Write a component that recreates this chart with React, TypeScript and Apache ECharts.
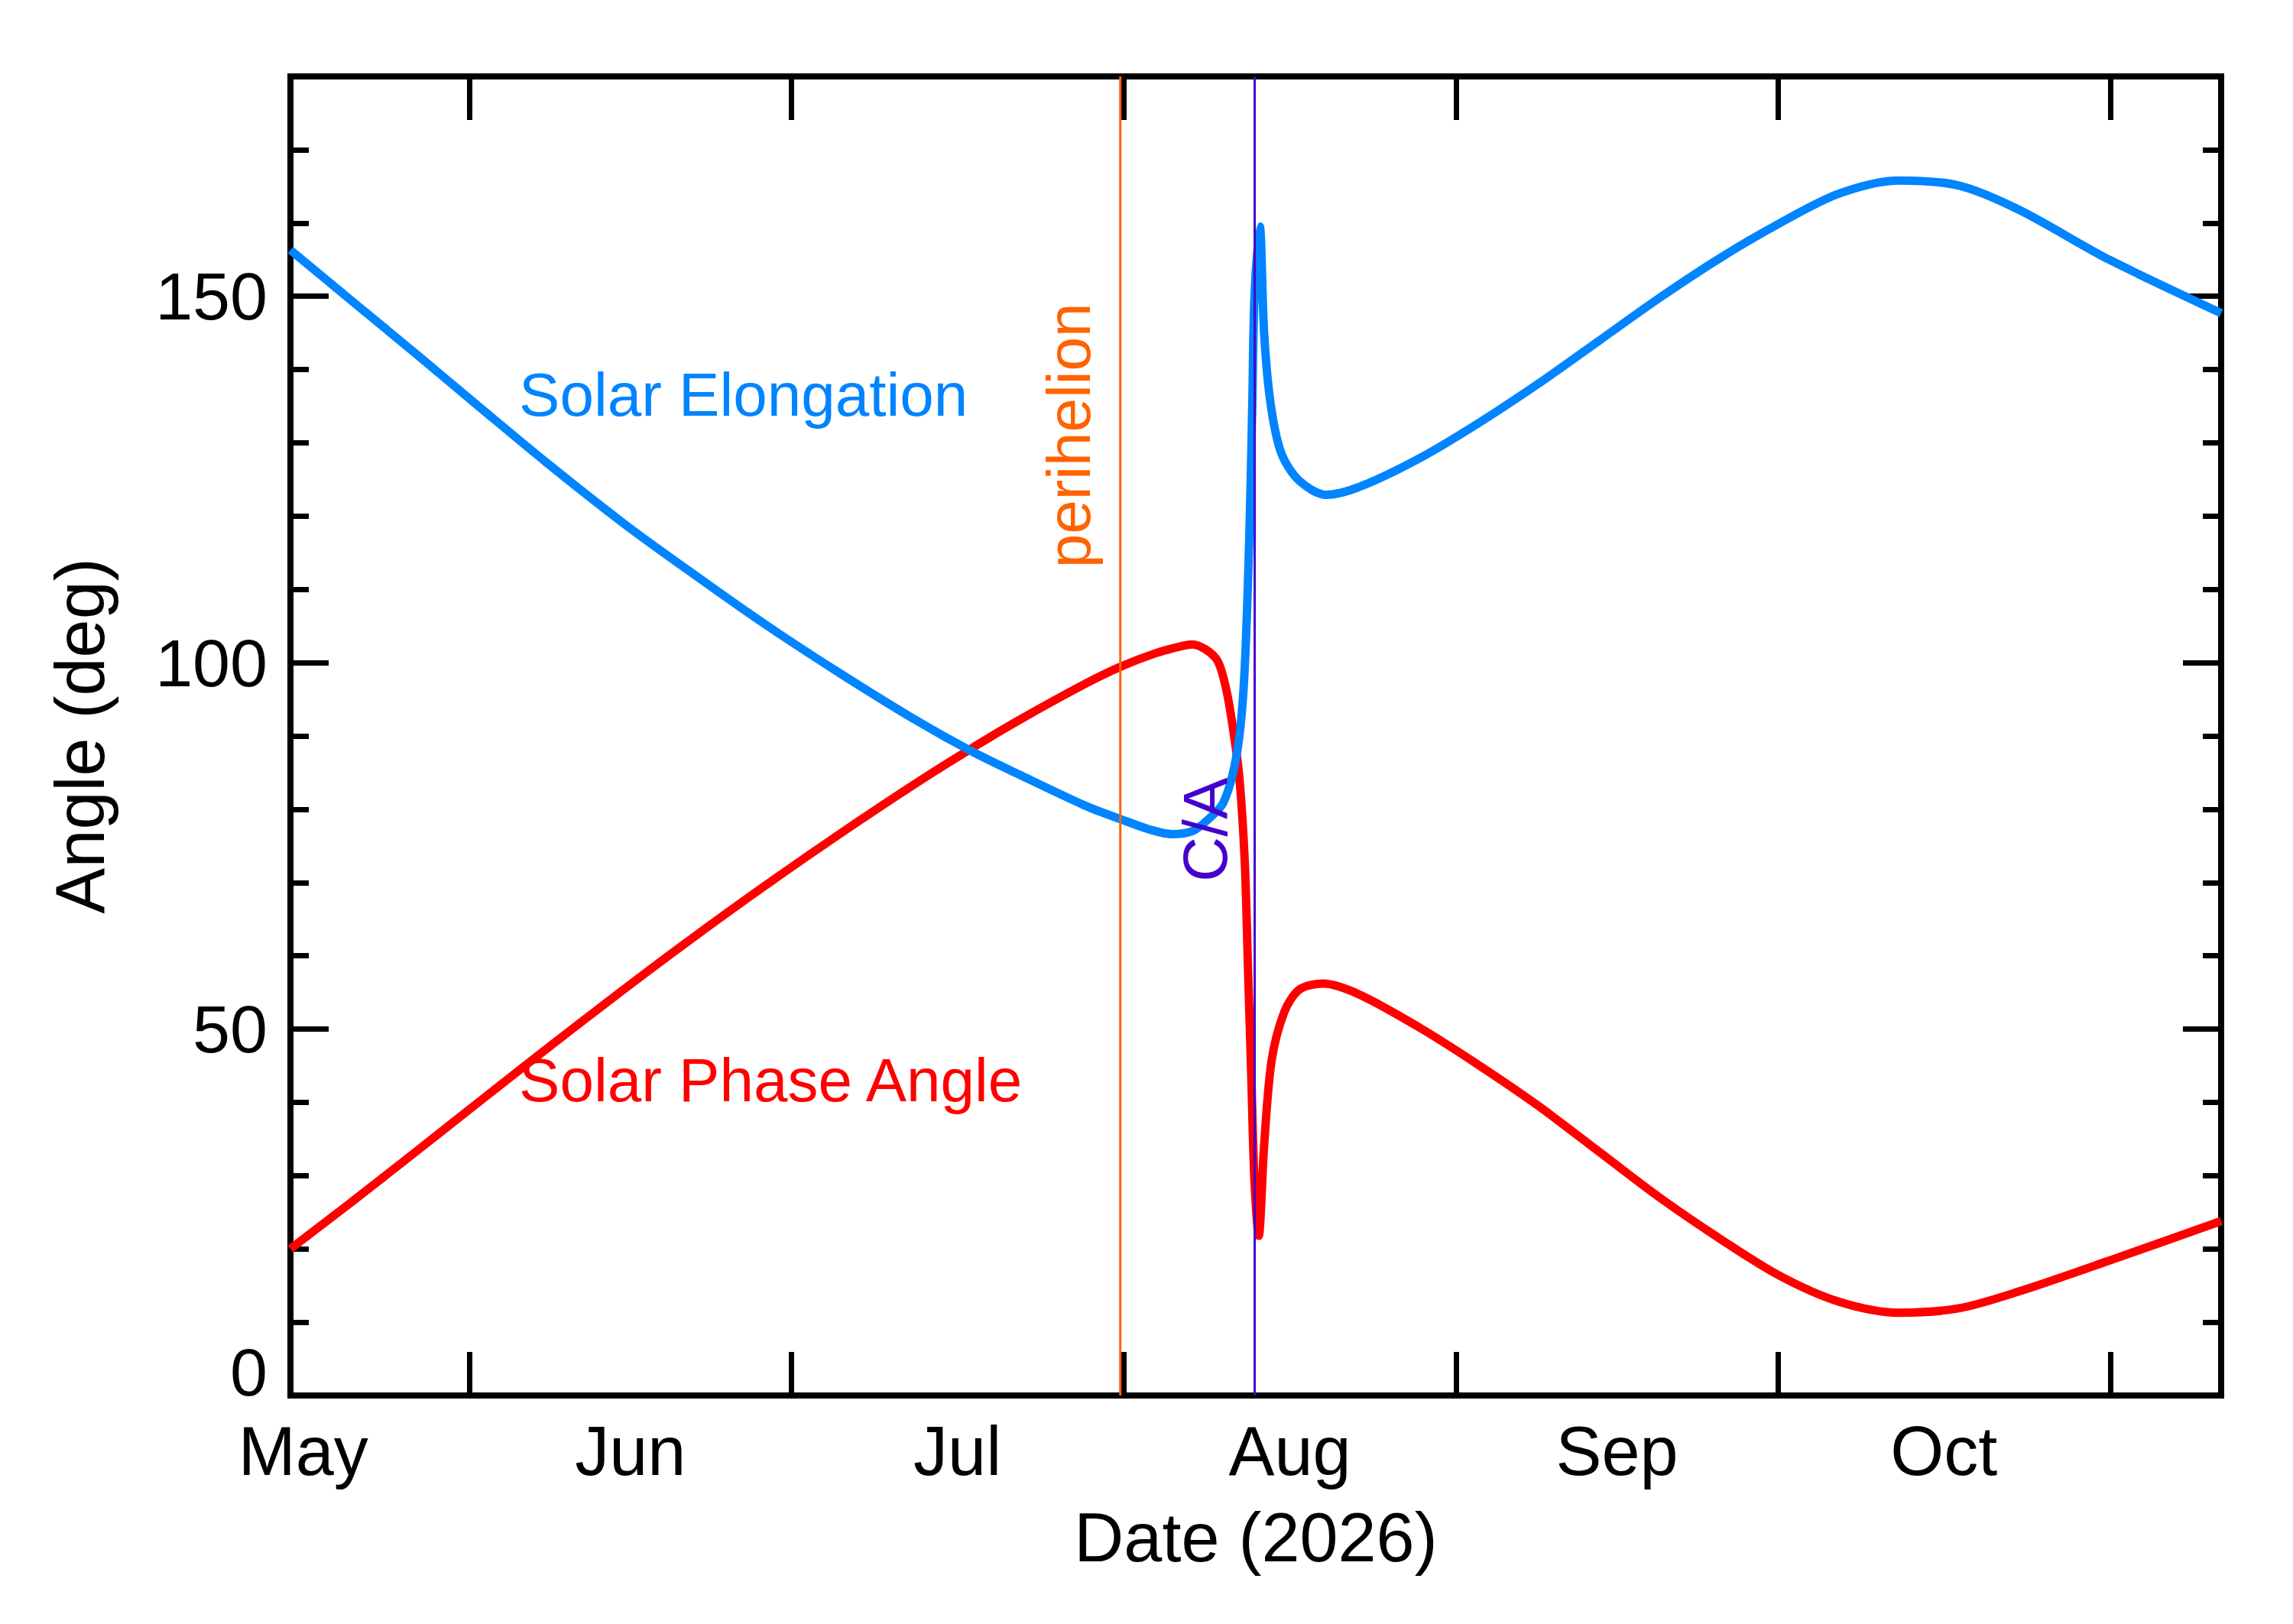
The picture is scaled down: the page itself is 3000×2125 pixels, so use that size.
import React, { useEffect, useRef } from 'react';
import * as echarts from 'echarts';

// days counted from 2026-05-01 (May 1 = 0)
const elongDays = [
  14.3, 20.0, 26.2, 32.0, 38.1, 45.2, 51.4, 58.5, 65.6, 72.8, 77.7, 82.3, 88.4, 91.8, 94.5,
  96.5, 98.4, 99.8, 101.3, 102.5, 103.2, 103.7, 104.0, 104.2, 104.7, 105.1, 105.7, 106.7,
  108.4, 110.9, 114.0, 119.6, 125.1, 130.7, 136.3, 141.9, 147.5, 153.1, 158.7, 164.3, 169.9,
  175.5, 183.9, 194.35
];
const elongation = [
  156.3, 149.4, 141.9, 134.8, 127.4, 119.2, 112.6, 105.3, 98.5, 92.0, 88.0, 84.7, 80.5, 78.6, 77.2,
  76.6, 77.0, 78.5, 80.9, 87.1, 96.8, 116.1, 135.4, 149.8, 159.5, 145.0, 135.4, 128.6,
  124.8, 122.9, 124.0, 127.9, 132.7, 138.1, 143.9, 149.7, 155.1, 159.9, 164.0, 165.8, 165.1,
  161.8, 155.0, 147.7
];

const phaseDays = [
  14.3, 20.0, 26.2, 32.0, 38.1, 45.2, 51.4, 58.5, 65.6, 72.8, 77.7, 82.3, 88.4, 91.8, 95.0,
  97.5, 98.4, 100.6, 101.5, 102.2, 102.8, 103.3, 103.6, 103.9, 104.2, 104.6, 105.1, 105.8,
  107.0, 108.4, 110.6, 114.0, 119.6, 125.1, 130.7, 136.3, 141.9, 147.5, 153.1, 158.7, 164.3,
  169.9, 175.5, 183.9, 194.35
];
const phaseAngle = [
  20.0, 26.4, 33.5, 40.2, 47.2, 55.2, 62.0, 69.5, 76.7, 83.7, 88.2, 92.2, 97.1, 99.5, 101.3,
  102.3, 102.5, 100.6, 96.8, 91.0, 84.2, 72.7, 58.2, 43.8, 29.3, 21.8, 34.1, 45.7,
  52.4, 55.4, 56.2, 54.7, 50.2, 45.1, 39.5, 33.3, 27.1, 21.5, 16.4, 12.8, 11.3,
  11.9, 14.2, 18.4, 23.8
];

const monthStarts = [31, 61, 92, 123, 153, 184];
const monthMids = [15.5, 46, 76.5, 107.5, 138, 168.5];
const monthNames = ['May', 'Jun', 'Jul', 'Aug', 'Sep', 'Oct'];
const majorTicks = [0, 50, 100, 150];
const minorTicks = [10, 20, 30, 40, 60, 70, 80, 90, 110, 120, 130, 140, 160, 170];

const perihelionDay = 91.69;
const closeApproachDay = 104.22;

const X_MIN = 14.3;
const X_MAX = 194.35;

const BLUE = '#0084ff';
const RED = '#ff0000';
const ORANGE = '#ff6200';
const PURPLE = '#4400cc';
const FONT = '"Liberation Sans", Arial, Helvetica, sans-serif';

// text annotations inside the plot, anchored in data coordinates
const notes = [
  { text: 'Solar Elongation', at: [35.62, 136.6], color: BLUE, vertical: false, size: 80 },
  { text: 'Solar Phase Angle', at: [35.62, 43.05], color: RED, vertical: false, size: 80 },
  { text: 'perihelion', at: [86.87, 131.0], color: ORANGE, vertical: true, size: 80 },
  { text: 'C/A', at: [99.6, 77.2], color: PURPLE, vertical: true, size: 82 }
];

const axisLineStyle = { color: '#000', width: 8, cap: 'square' as const };
const tickLineStyle = { color: '#000', width: 7 };

export default function App() {
  const chartRef = useRef<HTMLDivElement>(null);

  useEffect(() => {
    document.body.style.margin = '0';
    if (!chartRef.current) return;
    const chart = echarts.init(chartRef.current, undefined, { renderer: 'svg' });

    const xBase = {
      type: 'value' as const,
      min: X_MIN,
      max: X_MAX,
      splitLine: { show: false },
      axisLine: { show: true, onZero: false, lineStyle: axisLineStyle },
      axisTick: { show: true, inside: true, length: 57, customValues: monthStarts, lineStyle: tickLineStyle }
    };
    const yBase = {
      type: 'value' as const,
      min: 0,
      max: 180,
      splitLine: { show: false },
      axisLabel: { show: false }
    };

    const option: any = {
      animation: false,
      backgroundColor: '#fff',
      grid: { left: 380, top: 100, width: 2526, height: 1726 },
      xAxis: [
        {
          ...xBase,
          position: 'bottom',
          axisLabel: {
            show: true,
            customValues: monthMids,
            formatter: (v: number) => {
              const i = monthMids.findIndex((m) => Math.abs(m - v) < 0.01);
              return i >= 0 ? monthNames[i] : '';
            },
            fontSize: 90,
            lineHeight: 90,
            fontFamily: FONT,
            color: '#000',
            margin: 28
          },
          name: 'Date (2026)',
          nameLocation: 'middle',
          nameGap: 141,
          nameTextStyle: { fontSize: 90, lineHeight: 90, fontFamily: FONT, color: '#000' }
        },
        { ...xBase, position: 'top', axisLabel: { show: false } }
      ],
      yAxis: [
        {
          ...yBase,
          position: 'left',
          axisLine: { show: true, onZero: false, lineStyle: axisLineStyle },
          axisTick: { show: true, inside: true, length: 50, customValues: majorTicks, lineStyle: tickLineStyle },
          axisLabel: {
            show: true,
            customValues: majorTicks,
            formatter: (v: number) => (v === 0 ? '{z|0}' : String(v)),
            fontSize: 88,
            lineHeight: 90,
            fontFamily: FONT,
            color: '#000',
            margin: 30,
            rich: {
              z: { fontSize: 88, lineHeight: 90, fontFamily: FONT, color: '#000', padding: [0, 0, 62, 0] }
            }
          },
          name: 'Angle (deg)',
          nameLocation: 'middle',
          nameGap: 230,
          nameTextStyle: { fontSize: 90, lineHeight: 90, fontFamily: FONT, color: '#000' }
        },
        {
          ...yBase,
          position: 'left',
          axisLine: { show: false },
          axisTick: { show: true, inside: true, length: 24, customValues: minorTicks, lineStyle: tickLineStyle }
        },
        {
          ...yBase,
          position: 'right',
          axisLine: { show: true, onZero: false, lineStyle: axisLineStyle },
          axisTick: { show: true, inside: true, length: 50, customValues: majorTicks, lineStyle: tickLineStyle }
        },
        {
          ...yBase,
          position: 'right',
          axisLine: { show: false },
          axisTick: { show: true, inside: true, length: 24, customValues: minorTicks, lineStyle: tickLineStyle }
        }
      ],
      series: [
        {
          name: 'Solar Phase Angle',
          type: 'line',
          data: phaseDays.map((d, i) => [d, phaseAngle[i]]),
          symbol: 'none',
          smooth: 0.3,
          lineStyle: { color: RED, width: 11 }
        },
        {
          name: 'Solar Elongation',
          type: 'line',
          data: elongDays.map((d, i) => [d, elongation[i]]),
          symbol: 'none',
          smooth: 0.3,
          lineStyle: { color: BLUE, width: 11 }
        },
        {
          name: 'perihelion',
          type: 'line',
          data: [[perihelionDay, 0], [perihelionDay, 180]],
          symbol: 'none',
          lineStyle: { color: ORANGE, width: 3 }
        },
        {
          name: 'C/A',
          type: 'line',
          data: [[closeApproachDay, 0], [closeApproachDay, 180]],
          symbol: 'none',
          lineStyle: { color: PURPLE, width: 3 }
        }
      ]
    };

    chart.setOption(option);

    const graphic = notes.map((n) => {
      const p = chart.convertToPixel({ xAxisIndex: 0, yAxisIndex: 0 }, n.at) as number[];
      return {
        type: 'text',
        x: p[0],
        y: p[1],
        rotation: n.vertical ? Math.PI / 2 : 0,
        z: 20,
        style: {
          text: n.text,
          fill: n.color,
          fontSize: n.size,
          fontFamily: FONT,
          align: n.vertical ? 'center' : 'left',
          verticalAlign: 'middle'
        }
      };
    });
    chart.setOption({ graphic });

    return () => {
      chart.dispose();
    };
  }, []);

  return <div ref={chartRef} style={{ width: '3000px', height: '2125px' }} />;
}
